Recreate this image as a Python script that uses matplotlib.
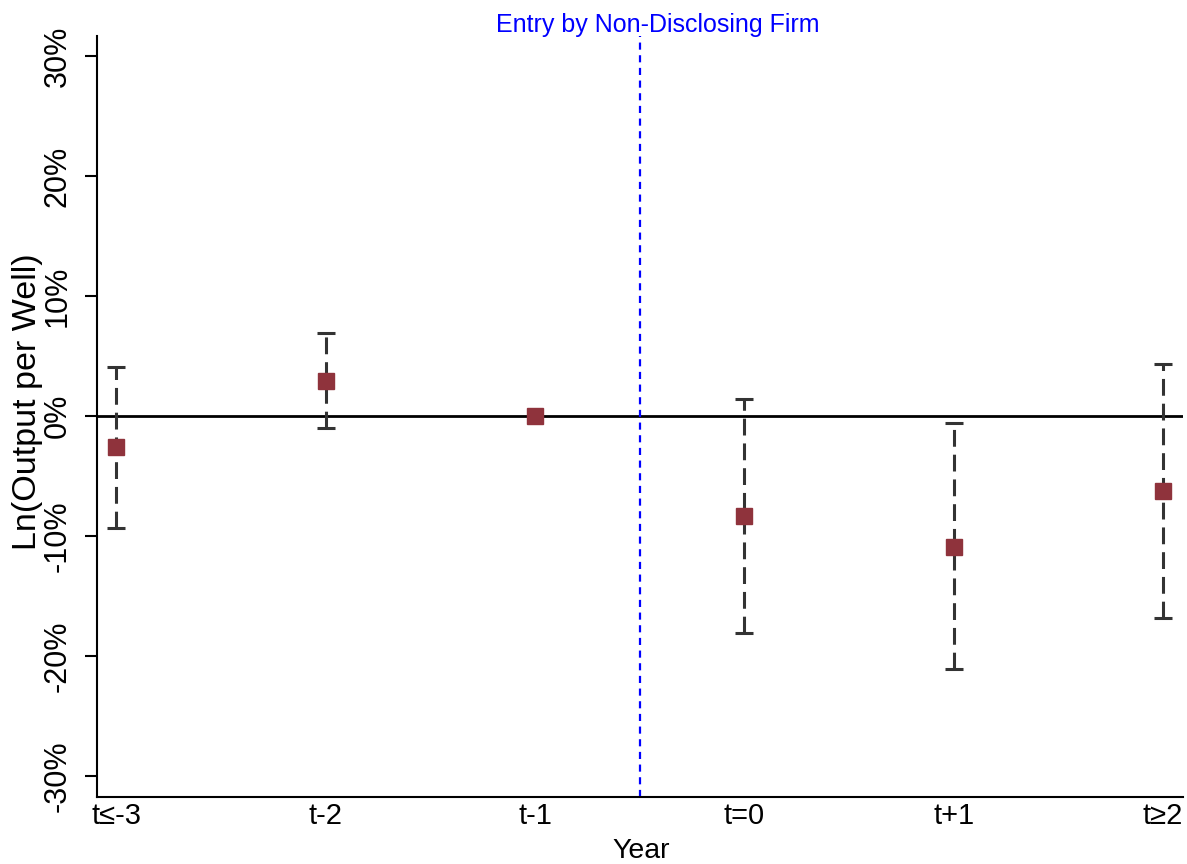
import numpy as np
import matplotlib
matplotlib.use('Agg')
import matplotlib.pyplot as plt

# Data (percent)
labels = ['t≤-3', 't-2', 't-1', 't=0', 't+1', 't≥2']
coef = [-2.6, 2.9, 0.0, -8.3, -10.9, -6.25]
ci_lo = [-9.3, -1.0, np.nan, -18.05, -21.1, -16.8]
ci_hi = [4.1, 6.9, np.nan, 1.45, -0.55, 4.33]
yticks = [-30, -20, -10, 0, 10, 20, 30]
entry_x = 2.5

plt.rcParams['font.family'] = ['Liberation Sans', 'DejaVu Sans']

fig = plt.figure(figsize=(11.87, 8.64), dpi=100)
ax = fig.add_axes([0.0815, 0.078, 0.915, 0.8805])

x = np.arange(len(labels))
coef = np.array(coef)
lo = np.array(ci_lo)
hi = np.array(ci_hi)
has_ci = ~np.isnan(lo)

# zero line
ax.axhline(0, color='black', lw=2, zorder=1)
# entry line
ax.axvline(entry_x, color='#0000ff', lw=1.6, ls=(0, (3.2, 2.5)), zorder=1)

# confidence intervals
eb = ax.errorbar(x[has_ci], coef[has_ci],
                 yerr=[coef[has_ci] - lo[has_ci], hi[has_ci] - coef[has_ci]],
                 fmt='none', ecolor='#333333', elinewidth=2.2,
                 capsize=6.5, capthick=2.2, zorder=2)
eb.lines[2][0].set_linestyle((0, (5.5, 2.6)))

ax.plot(x, coef, 's', color='#8f333c', markersize=11.5, zorder=3)

ax.set_xlim(-0.094, 5.094)
ax.set_ylim(-31.7, 31.7)
ax.set_xticks(x)
ax.set_xticklabels(labels, fontsize=21)
ax.set_yticks(yticks)
ax.set_yticklabels([f'{v}%' for v in yticks], fontsize=22, rotation=90, va='center')
ax.tick_params(axis='x', length=0, pad=4)
ax.tick_params(axis='y', length=8.5, width=1.5, pad=9)
for s in ['top', 'right']:
    ax.spines[s].set_visible(False)
for s in ['left', 'bottom']:
    ax.spines[s].set_linewidth(1.5)

# axis titles
fig.text(641 / 1187, 1 - 838 / 864, 'Year', fontsize=20.5, ha='center', va='top')
fig.text(27.5 / 1187, 1 - 402 / 864, 'Ln(Output per Well)', fontsize=24.5,
         rotation=90, ha='center', va='center')

ax.text(2.587, 32.0, 'Entry by Non-Disclosing Firm', color='#0000ff',
        fontsize=18, ha='center', va='baseline', clip_on=False)

fig.savefig('out.png', dpi=100)
